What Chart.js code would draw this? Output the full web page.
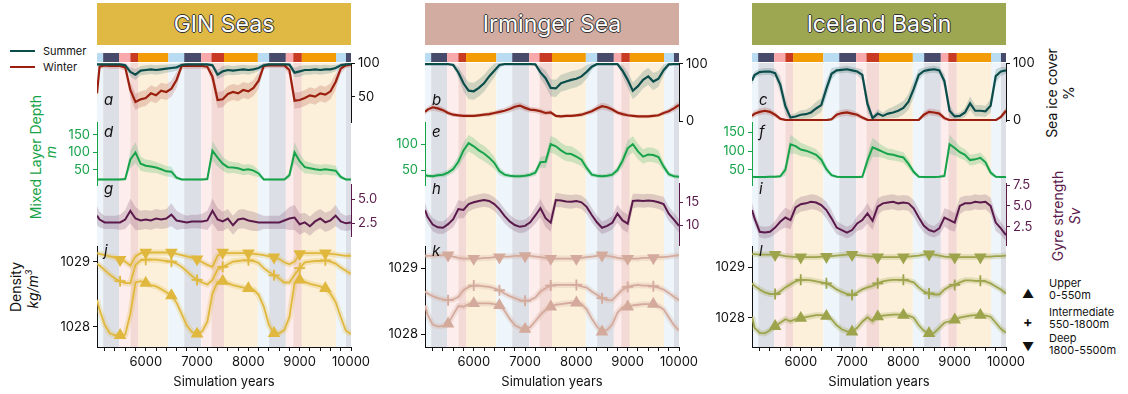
<!DOCTYPE html>
<html>
<head>
<meta charset="utf-8">
<script src="https://cdn.jsdelivr.net/npm/chart.js@4.4.1/dist/chart.umd.min.js"></script>
<style>
body { margin:0; background:#fff; width:1128px; height:394px; position:relative; overflow:hidden; font-family:Inter, sans-serif; color:#111; }
canvas { position:absolute; top:0; }
.hdr { position:absolute; top:3px; height:42px; width:254px; line-height:42px; text-align:center; font-size:23px; color:#fff;
  text-shadow:-1px 0 #333, 1px 0 #333, 0 -1px #333, 0 1px #333; }
.rot { position:absolute; white-space:nowrap; font-size:14px; transform:translate(-50%,-50%) rotate(-90deg); }
.lg { position:absolute; font-size:11px; line-height:12px; white-space:nowrap; }
.sw { position:absolute; height:2px; width:25px; }
</style>
</head>
<body>
<div class="hdr" style="left:97px;background:#dfb944">GIN Seas</div>
<div class="hdr" style="left:425px;background:#d3aca1">Irminger Sea</div>
<div class="hdr" style="left:752px;background:#9da651">Iceland Basin</div>

<div class="sw" style="left:10px;top:50px;background:#0b4d4b"></div>
<div class="lg" style="left:43px;top:45px">Summer</div>
<div class="sw" style="left:10px;top:66px;background:#9a1f0e"></div>
<div class="lg" style="left:43px;top:61px">Winter</div>

<div class="rot" style="left:35px;top:157px;color:#17a34a">Mixed Layer Depth</div>
<div class="rot" style="left:50px;top:152px;color:#17a34a;font-style:italic">m</div>
<div class="rot" style="left:15px;top:287px">Density</div>
<div class="rot" style="left:32px;top:289px;font-style:italic">kg/m<sup style="font-size:9px">3</sup></div>
<div class="rot" style="left:1051px;top:93px">Sea ice cover</div>
<div class="rot" style="left:1068px;top:93px">%</div>
<div class="rot" style="left:1057px;top:216px;color:#5b1a4c">Gyre strength</div>
<div class="rot" style="left:1074px;top:216px;color:#5b1a4c;font-style:italic">Sv</div>

<div class="lg" style="left:1022px;top:288px;font-size:12px">&#9650;</div>
<div class="lg" style="left:1049px;top:277px">Upper<br>0-550m</div>
<div class="lg" style="left:1023px;top:316px;font-size:14px;font-weight:bold">+</div>
<div class="lg" style="left:1049px;top:306px">Intermediate<br>550-1800m</div>
<div class="lg" style="left:1022px;top:341px;font-size:12px">&#9660;</div>
<div class="lg" style="left:1049px;top:332px">Deep<br>1800-5500m</div>

<canvas id="c0" width="374" height="394" style="left:37px"></canvas>
<canvas id="c1" width="374" height="394" style="left:365px"></canvas>
<canvas id="c2" width="374" height="394" style="left:692px"></canvas>

<script>
// time axis of every series (simulation years)
const years = [5050,5100,5200,5300,5400,5500,5600,5700,5800,5900,6000,6100,6200,6300,6400,6500,6600,6700,6800,6900,
  7000,7100,7200,7300,7400,7500,7600,7700,7800,7900,8000,8100,8200,8300,8400,8500,8600,8700,8800,8900,
  9000,9100,9200,9300,9400,9500,9600,9700,9800,9900,10000]
const xTickYears = [5200,5400,5600,5800,6000,6200,6400,6600,6800,7000,7200,7400,7600,7800,8000,8200,8400,8600,8800,9000,9200,9400,9600,9800,10000]
const markerYears = [5500,6000,6500,7000,7500,8000,8500,9000,9500]

// phase bar / shaded periods
const phaseBounds = [5050,5170,5480,5700,5850,6440,6750,7080,7280,7525,8185,8405,8730,8875,9042,9708,9902,10000]
const phaseKinds = ['lb','navy','pink','red','orange','lb','navy','pink','red','orange','lb','navy','pink','red','orange','lb','navy']

// GIN Seas
const ginSummer = [98.5,98.5,98.5,98.5,98.5,98.5,97,87,83,89,90,91,90,91,92,93,94,97.5,98.5,98.5,98.5,98.5,98.5,97,83,88,90,89,90,91,90,91,93,97,98.5,98.5,98.5,98.5,98,86,88,90,90,91,90,91,91,93,97,98.5,99]
const ginSummerSp = [2,2,2,2,2,2,3,7,8,7,7,7,7,7,6,6,5,3,2,2,2,2,2,3,7,8,7,7,7,7,7,6,5,3,2,2,2,2,3,7,8,7,7,7,7,7,6,5,3,2,2]
const ginWinter = [55,95,97,96,96,96,94,60,42,46,48,55,52,59,57,62,75,96,96,96,96,96,95,80,45,46,54,57,55,60,58,63,74,96,97,97,97,97,90,44,45,48,52,50,55,53,58,72,92,97,98]
const ginWinterSp = [8,4,4,4,4,4,5,12,12,12,12,12,12,12,12,12,12,5,4,4,4,4,4,10,12,12,12,12,12,12,12,12,12,5,4,4,4,4,8,12,12,12,12,12,12,12,12,12,8,4,4]
const ginMld = [23,23,23,23,23,23,24,80,100,68,62,60,57,52,46,45,28,23,23,23,23,23,24,105,85,68,58,57,55,50,52,48,40,23,23,23,23,23,35,100,75,58,55,52,50,52,50,48,30,23,23]
const ginMldSp = [3,3,3,3,3,3,4,25,30,20,18,18,16,16,15,15,6,3,3,3,3,3,4,28,25,20,18,16,16,15,15,15,10,3,3,3,3,3,10,30,22,18,16,15,15,15,15,14,6,3,3]
const ginGyre = [3.3,2.9,2.6,2.6,2.6,2.6,2.9,3.8,3.0,2.8,2.9,2.8,3.0,2.9,3.0,3.4,2.8,2.7,2.6,2.7,2.7,2.7,2.8,3.8,2.9,2.7,3.0,2.3,2.9,3.0,2.8,2.7,2.6,2.6,2.6,2.6,2.6,2.8,3.0,3.1,2.4,2.6,2.2,2.7,3.0,2.6,2.8,3.3,2.7,2.5,2.6]
const ginGyreSp = [1,0.8,0.7,0.7,0.7,0.8,1,1.3,1.2,1,1,1,1,1,1,1.2,1,0.8,0.7,0.7,0.7,0.8,1,1.3,1.2,1,1,1,1,1,1,1,0.9,0.7,0.7,0.7,0.7,0.9,1.2,1.3,1.1,1,1,1,1,1,1,1.1,0.9,0.8,0.8]
const ginUpper = [1028.41,1028.26,1028.03,1027.9,1027.87,1027.87,1027.88,1028.2,1028.68,1028.7,1028.67,1028.64,1028.62,1028.58,1028.53,1028.48,1028.37,1028.2,1028.02,1027.92,1027.89,1027.93,1028.08,1028.51,1028.69,1028.7,1028.67,1028.64,1028.62,1028.6,1028.59,1028.57,1028.49,1028.31,1028.03,1027.9,1027.9,1027.95,1028.15,1028.67,1028.72,1028.69,1028.66,1028.64,1028.62,1028.59,1028.51,1028.38,1028.15,1027.94,1027.89]
const ginInter = [1028.97,1028.94,1028.87,1028.8,1028.74,1028.7,1028.67,1028.67,1028.95,1029.02,1029.03,1029.03,1029.03,1029.02,1029.01,1029.0,1028.97,1028.92,1028.85,1028.78,1028.72,1028.68,1028.65,1028.72,1028.88,1028.92,1028.96,1029.0,1029.01,1029.02,1029.02,1029.01,1028.98,1028.9,1028.84,1028.79,1028.74,1028.68,1028.68,1028.8,1028.9,1028.99,1029.0,1029.01,1029.01,1029.02,1029.0,1028.97,1028.91,1028.86,1028.81]
const ginDeep = [1029.13,1029.12,1029.1,1029.08,1029.06,1029.03,1029.0,1028.94,1029.08,1029.13,1029.14,1029.14,1029.14,1029.14,1029.14,1029.14,1029.12,1029.1,1029.08,1029.06,1029.04,1028.99,1028.95,1028.92,1029.09,1029.14,1029.13,1029.13,1029.13,1029.13,1029.13,1029.12,1029.11,1029.1,1029.08,1029.07,1029.04,1028.99,1028.96,1029.0,1029.12,1029.13,1029.13,1029.13,1029.13,1029.13,1029.12,1029.11,1029.1,1029.09,1029.09]

// Irminger Sea
const irmSummer = [99.5,99.5,99.5,99.5,99.5,99.5,98,85,66,53,52,58,66,78,88,98,99.5,99.5,99.5,99.5,99.5,99.5,99,85,75,58,57,66,69,72,74,78,86,95,99.5,99.5,99.5,99.5,99.5,88,72,53,61,72,78,69,74,89,99,99.5,99.5]
const irmSummerSp = [1,1,1,1,1,1,3,10,14,15,15,15,15,14,12,6,1,1,1,1,1,1,2,10,14,15,15,15,15,15,15,14,12,6,1,1,1,1,1,10,14,15,15,15,15,15,14,10,3,1,1]
const irmWinter = [16,20,24,22,19,14,11,10,9,9,9,10,11,12,14,16,18,21,25,27,23,20,19,17,14,15,9,8,9,9,10,11,14,17,22,26,24,20,15,12,10,9,8,8,8,9,10,14,17,22,28]
const irmWinterSp = [5,5,6,6,5,4,4,3,3,3,3,3,3,4,4,5,5,6,6,6,6,5,5,5,4,4,3,3,3,3,3,4,4,5,6,6,6,5,4,4,3,3,3,3,3,3,3,4,5,6,6]
const irmMld = [40,39,38,40,41,45,52,66,88,102,96,88,82,74,64,48,41,39,38,38,39,41,45,65,66,100,96,88,82,81,76,70,54,41,39,38,39,41,50,68,92,100,86,76,80,79,75,57,42,38,37]
const irmMldSp = [4,4,4,4,5,6,8,12,15,16,16,15,15,14,12,8,5,4,4,4,4,5,6,10,12,16,16,15,15,15,14,12,8,5,4,4,4,5,7,12,15,16,15,14,14,14,13,8,5,4,4]
const irmGyre = [13.3,11.8,10.1,9.5,9.4,10.2,11.3,13.5,13.3,14.6,15.0,15.3,15.5,15.3,14.6,13.5,12.0,10.8,10.0,9.6,9.8,10.6,12.1,13.7,11.5,10.5,15.5,15.4,15.2,15.1,15.3,15.0,14.0,12.2,10.6,9.4,9.8,10.5,12.5,11.0,10.3,15.3,15.4,15.3,15.4,15.3,15.0,14.6,12.5,11.2,9.8]
const irmGyreSp = [1.5,1.5,1.5,1.4,1.4,1.5,1.8,2,1.8,1.6,1.5,1.5,1.5,1.5,1.5,1.6,1.6,1.5,1.4,1.4,1.4,1.5,1.8,2,2,2,1.6,1.5,1.5,1.5,1.5,1.5,1.6,1.6,1.5,1.4,1.4,1.5,2,2,2,1.6,1.5,1.5,1.5,1.5,1.5,1.6,1.6,1.5,1.5]
const irmUpper = [1028.44,1028.3,1028.15,1028.12,1028.13,1028.16,1028.3,1028.43,1028.42,1028.46,1028.47,1028.47,1028.47,1028.47,1028.46,1028.44,1028.36,1028.24,1028.14,1028.1,1028.08,1028.11,1028.2,1028.3,1028.37,1028.42,1028.45,1028.46,1028.47,1028.48,1028.48,1028.46,1028.38,1028.24,1028.12,1028.04,1028.07,1028.15,1028.33,1028.41,1028.42,1028.44,1028.45,1028.46,1028.46,1028.46,1028.43,1028.38,1028.26,1028.14,1028.06]
const irmInter = [1028.65,1028.62,1028.58,1028.55,1028.53,1028.52,1028.53,1028.57,1028.67,1028.72,1028.74,1028.74,1028.73,1028.72,1028.7,1028.67,1028.62,1028.58,1028.55,1028.52,1028.51,1028.52,1028.56,1028.65,1028.7,1028.74,1028.75,1028.75,1028.75,1028.75,1028.75,1028.73,1028.71,1028.65,1028.6,1028.55,1028.52,1028.52,1028.6,1028.68,1028.72,1028.74,1028.75,1028.74,1028.74,1028.73,1028.71,1028.68,1028.63,1028.57,1028.52]
const irmDeep = [1029.19,1029.19,1029.19,1029.2,1029.2,1029.2,1029.18,1029.16,1029.15,1029.15,1029.15,1029.15,1029.16,1029.16,1029.17,1029.17,1029.18,1029.18,1029.19,1029.19,1029.19,1029.19,1029.18,1029.17,1029.16,1029.15,1029.15,1029.15,1029.15,1029.15,1029.15,1029.16,1029.17,1029.18,1029.19,1029.2,1029.19,1029.18,1029.16,1029.15,1029.15,1029.15,1029.15,1029.16,1029.16,1029.16,1029.17,1029.17,1029.18,1029.19,1029.2]

// Iceland Basin
const iceSummer = [70,80,85,86,86,83,63,25,5,7,10,11,14,21,27,56,82,88,89,90,88,86,80,29,4,12,8,12,14,17,22,33,55,80,87,89,90,88,69,17,7,8,14,30,17,17,16,26,78,86,88]
const iceSummerSp = [8,6,6,6,6,8,15,15,5,6,8,8,10,12,12,15,10,6,6,6,6,6,10,15,4,8,6,8,10,12,12,14,15,10,6,6,6,6,12,12,5,6,8,12,10,10,10,12,12,8,6]
const iceWinter = [8,12,15,17,15,10,3,1,0.5,0.5,0.5,0.5,0.5,0.5,0.5,0.5,2,10,13,14,12,10,5,1,0.5,0.5,0.5,0.5,0.5,0.5,0.5,0.5,0.5,1,10,15,14,12,4,0.5,0.5,0.5,0.5,0.5,0.5,0.5,0.5,0.5,0.5,6,17]
const iceWinterSp = [5,6,6,6,6,5,3,1,1,1,1,1,1,1,1,1,3,6,6,6,6,5,4,2,1,1,1,1,1,1,1,1,1,2,6,6,6,6,4,1,1,1,1,1,1,1,1,1,1,4,6]
const iceMld = [32,31,31,31,32,32,33,50,118,113,104,101,96,90,77,52,36,32,31,31,31,31,32,75,110,104,98,92,90,86,83,66,45,32,31,31,31,32,34,118,108,97,90,76,78,82,70,43,32,31,31]
const iceMldSp = [3,3,3,3,3,3,4,15,25,20,18,16,15,15,14,10,5,3,3,3,3,3,4,20,25,20,16,15,15,14,14,12,8,3,3,3,3,3,5,25,20,16,15,14,14,14,12,8,3,3,3]
const iceGyre = [4.5,3.5,1.9,1.8,1.9,2.4,3.1,3.6,3.3,4.8,5.2,5.3,5.5,5.4,5.1,4.5,3.5,2.4,2.1,1.8,2.1,2.9,3.3,4.1,3.2,4.9,5.3,5.4,5.5,5.3,5.4,5.3,4.7,3.6,2.6,2.1,1.9,2.3,3.6,3.3,3.0,5.0,5.3,5.3,5.5,5.4,5.5,5.0,3.0,2.3,1.5]
const iceGyreSp = [0.9,0.8,0.7,0.7,0.7,0.8,1,1.2,1.1,0.9,0.9,0.9,0.9,0.9,0.9,1,1,0.8,0.7,0.7,0.7,0.9,1.1,1.2,1.1,1,0.9,0.9,0.9,0.9,0.9,0.9,1,1,0.8,0.7,0.7,0.8,1.1,1.2,1.1,1,0.9,0.9,0.9,0.9,0.9,1,1,0.8,0.7]
const iceUpper = [1028.02,1027.8,1027.7,1027.69,1027.75,1027.83,1027.9,1027.97,1027.93,1027.97,1027.99,1028.01,1028.03,1028.05,1028.05,1028.03,1027.97,1027.85,1027.77,1027.73,1027.72,1027.8,1027.92,1028.01,1027.93,1028.02,1028.04,1028.05,1028.06,1028.06,1028.05,1028.04,1028.0,1027.85,1027.74,1027.69,1027.7,1027.8,1027.9,1027.93,1027.96,1028.0,1028.02,1028.04,1028.05,1028.05,1028.04,1028.02,1027.9,1027.78,1027.7]
const iceInter = [1028.68,1028.63,1028.56,1028.5,1028.47,1028.47,1028.52,1028.6,1028.66,1028.72,1028.75,1028.75,1028.74,1028.72,1028.7,1028.68,1028.63,1028.56,1028.51,1028.47,1028.45,1028.5,1028.56,1028.6,1028.63,1028.68,1028.72,1028.74,1028.75,1028.75,1028.75,1028.73,1028.7,1028.6,1028.52,1028.48,1028.46,1028.46,1028.56,1028.62,1028.65,1028.7,1028.74,1028.74,1028.73,1028.73,1028.72,1028.68,1028.62,1028.56,1028.48]
const iceDeep = [1029.26,1029.26,1029.25,1029.25,1029.25,1029.25,1029.24,1029.22,1029.21,1029.2,1029.2,1029.2,1029.2,1029.2,1029.21,1029.21,1029.22,1029.23,1029.24,1029.25,1029.25,1029.24,1029.23,1029.22,1029.21,1029.2,1029.2,1029.2,1029.2,1029.2,1029.2,1029.21,1029.22,1029.23,1029.25,1029.26,1029.25,1029.23,1029.21,1029.2,1029.2,1029.2,1029.2,1029.2,1029.2,1029.2,1029.21,1029.21,1029.22,1029.22,1029.23]

// colours
const C_SUMMER = '#0b4d4b', C_WINTER = '#9a1f0e', C_MLD = '#17a34a', C_GYRE = '#5b1a4c', C_INK = '#111'
const barColors = {lb:'#b9dcf2', navy:'#474a6b', pink:'#f7a9ac', red:'#c93a22', orange:'#f39c06'}
const paleColors = {lb:'#eff6fb', navy:'#dddfe6', pink:'#fdeded', red:'#f4dad6', orange:'#fcf0da'}

Chart.defaults.font.family = 'Inter, sans-serif'
Chart.defaults.font.size = 13
Chart.defaults.color = C_INK

const phasePlugin = {
  id: 'phases',
  beforeDraw(chart) {
    const {ctx, chartArea: a, scales: {x}} = chart
    ctx.save()
    for (let i = 0; i < phaseKinds.length; i++) {
      const x0 = x.getPixelForValue(phaseBounds[i]), x1 = x.getPixelForValue(phaseBounds[i+1])
      ctx.fillStyle = paleColors[phaseKinds[i]]
      ctx.fillRect(x0, a.top, x1 - x0, a.bottom - a.top)
      ctx.fillStyle = barColors[phaseKinds[i]]
      ctx.fillRect(x0, a.top - 10, x1 - x0, 9)
    }
    ctx.restore()
  },
  afterDatasetsDraw(chart, args, opts) {
    const {ctx, chartArea: a} = chart
    ctx.save()
    ctx.font = 'italic 15px Inter, sans-serif'
    ctx.fillStyle = C_INK
    ctx.textBaseline = 'middle'
    const ys = [100, 132, 189, 251]
    opts.letters.forEach((l, i) => ctx.fillText(l, a.left + 7, ys[i]))
    ctx.restore()
  }
}

function pts(vals) { return years.map((x, i) => ({x: x, y: vals[i]})) }
function shifted(vals, sp, sign) { return years.map((x, i) => ({x: x, y: vals[i] + sign * sp[i]})) }

function addLine(list, vals, axis, color, width) {
  list.push({data: pts(vals), yAxisID: axis, borderColor: color, borderWidth: width, pointRadius: 0, fill: false, order: 1})
}
function addBand(list, vals, sp, axis, color) {
  const i = list.length
  list.push({data: shifted(vals, sp, 1), yAxisID: axis, borderColor: 'transparent', borderWidth: 0, pointRadius: 0, fill: false, order: 5})
  list.push({data: shifted(vals, sp, -1), yAxisID: axis, borderColor: 'transparent', borderWidth: 0, pointRadius: 0, fill: i, backgroundColor: color, order: 5})
}
function addDensity(list, vals, color, style, rot) {
  list.push({data: pts(vals), yAxisID: 'dens', borderColor: color, borderWidth: 1.8, fill: false, order: 1,
    pointStyle: style, pointRotation: rot,
    pointRadius: c => markerYears.includes(years[c.dataIndex]) ? 5.5 : 0,
    pointHoverRadius: 0, pointBackgroundColor: color, pointBorderColor: color, pointBorderWidth: 1.8})
  list.push({data: pts(vals), yAxisID: 'dens', borderColor: color + '40', borderWidth: 6, pointRadius: 0, fill: false, order: 6})
}

function yAxis(stack, pos, weight, min, max, ticks, color, fmt) {
  return {
    type: 'linear', position: pos, stack: stack, stackWeight: weight, min: min, max: max,
    grid: {display: true, drawOnChartArea: false, drawTicks: true, tickLength: 4, color: color},
    border: {display: true, color: color, width: 1},
    ticks: {color: color, padding: 3, autoSkip: false, callback: fmt || (v => String(v))},
    afterBuildTicks: s => { s.ticks = ticks.map(v => ({value: v})) },
    afterFit: s => { s.width = 45 }
  }
}
function blankAxis(stack, pos, weight) {
  return {type: 'linear', position: pos, stack: stack, stackWeight: weight, min: 0, max: 1,
    grid: {display: false}, border: {display: false}, ticks: {display: false},
    afterFit: s => { s.width = 45 }}
}

function makeColumn(id, c) {
  const ds = []
  addLine(ds, c.summer, 'sea', C_SUMMER, 2.2)
  addLine(ds, c.winter, 'sea', C_WINTER, 2.2)
  addLine(ds, c.mld, 'mld', C_MLD, 2)
  addLine(ds, c.gyre, 'gyre', C_GYRE, 2)
  addDensity(ds, c.upper, c.dens, 'triangle', 0)
  addDensity(ds, c.inter, c.dens, 'cross', 0)
  addDensity(ds, c.deep, c.dens, 'triangle', 180)
  addBand(ds, c.summer, c.summerSp, 'sea', 'rgba(11,77,75,0.18)')
  addBand(ds, c.winter, c.winterSp, 'sea', 'rgba(154,31,14,0.18)')
  addBand(ds, c.mld, c.mldSp, 'mld', 'rgba(23,163,74,0.2)')
  addBand(ds, c.gyre, c.gyreSp, 'gyre', 'rgba(91,26,76,0.18)')

  const rw = c.rightWeights
  new Chart(document.getElementById(id), {
    type: 'line',
    data: {datasets: ds},
    plugins: [phasePlugin],
    options: {
      responsive: false, animation: false, devicePixelRatio: 1,
      layout: {padding: {left: 15, right: 15, top: 63, bottom: 0}},
      elements: {line: {tension: 0}},
      plugins: {legend: {display: false}, tooltip: {enabled: false}, phases: {letters: c.letters}},
      scales: {
        x: {
          type: 'linear', position: 'bottom', min: 5050, max: 10000,
          grid: {display: true, drawOnChartArea: false, tickLength: 4, color: C_INK},
          border: {display: true, color: C_INK},
          ticks: {color: C_INK, autoSkip: false, maxRotation: 0, padding: 3, callback: v => v % 1000 === 0 ? String(v) : ''},
          afterBuildTicks: s => { s.ticks = xTickYears.map(v => ({value: v})) },
          title: {display: true, text: 'Simulation years', color: C_INK, padding: {top: 4, bottom: 4}},
          afterFit: s => { s.height = 47 }
        },
        // left stack, listed bottom to top
        dens: yAxis('L', 'left', 101, c.densAx[0], c.densAx[1], [1028, 1029], C_INK),
        blankG: blankAxis('L', 'left', 61),
        mld: yAxis('L', 'left', 63, c.mldAx[0], c.mldAx[1], c.mldTicks, C_MLD),
        blankA: blankAxis('L', 'left', 59),
        // right stack, listed top to bottom
        sea: yAxis('R', 'right', rw[0], c.seaAx[0], c.seaAx[1], c.seaTicks, C_INK),
        blankM: blankAxis('R', 'right', rw[1]),
        gyre: yAxis('R', 'right', rw[2], c.gyreAx[0], c.gyreAx[1], c.gyreTicks, C_GYRE, c.gyreFmt),
        blankD: blankAxis('R', 'right', rw[3])
      }
    }
  })
}

makeColumn('c0', {
  summer: ginSummer, summerSp: ginSummerSp, winter: ginWinter, winterSp: ginWinterSp,
  mld: ginMld, mldSp: ginMldSp, gyre: ginGyre, gyreSp: ginGyreSp,
  upper: ginUpper, inter: ginInter, deep: ginDeep, dens: '#e0b83e',
  letters: ['a', 'd', 'g', 'j'], rightWeights: [59, 62, 52, 111],
  seaAx: [12, 100.5], seaTicks: [50, 100], mldAx: [7, 187], mldTicks: [50, 100, 150],
  gyreAx: [1.18, 6.6], gyreTicks: [2.5, 5], gyreFmt: v => v.toFixed(1), densAx: [1027.69, 1029.24]
})
makeColumn('c1', {
  summer: irmSummer, summerSp: irmSummerSp, winter: irmWinter, winterSp: irmWinterSp,
  mld: irmMld, mldSp: irmMldSp, gyre: irmGyre, gyreSp: irmGyreSp,
  upper: irmUpper, inter: irmInter, deep: irmDeep, dens: '#d4aa9c',
  letters: ['b', 'e', 'h', 'k'], rightWeights: [58, 62, 62, 102],
  seaAx: [0, 101.5], seaTicks: [0, 100], mldAx: [21, 143], mldTicks: [50, 100],
  gyreAx: [5.6, 19.25], gyreTicks: [10, 15], gyreFmt: v => String(v), densAx: [1027.81, 1029.34]
})
makeColumn('c2', {
  summer: iceSummer, summerSp: iceSummerSp, winter: iceWinter, winterSp: iceWinterSp,
  mld: iceMld, mldSp: iceMldSp, gyre: iceGyre, gyreSp: iceGyreSp,
  upper: iceUpper, inter: iceInter, deep: iceDeep, dens: '#9da44c',
  letters: ['c', 'f', 'i', 'l'], rightWeights: [58, 62, 62, 102],
  seaAx: [-1, 101], seaTicks: [0, 100], mldAx: [10, 177], mldTicks: [50, 100, 150],
  gyreAx: [0.31, 7.74], gyreTicks: [2.5, 5, 7.5], gyreFmt: v => v.toFixed(1), densAx: [1027.42, 1029.42]
})
</script>
</body>
</html>
